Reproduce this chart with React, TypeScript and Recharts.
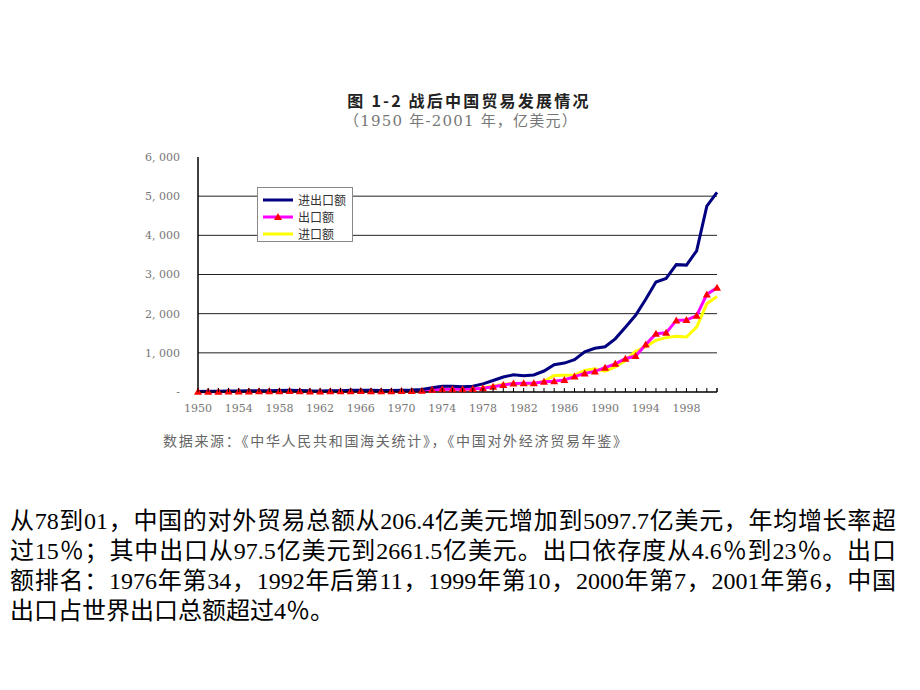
import { LineChart, Line, XAxis, YAxis, ReferenceLine } from "recharts";

const years = [
  1950, 1951, 1952, 1953, 1954, 1955, 1956, 1957, 1958, 1959, 1960, 1961, 1962,
  1963, 1964, 1965, 1966, 1967, 1968, 1969, 1970, 1971, 1972, 1973, 1974, 1975,
  1976, 1977, 1978, 1979, 1980, 1981, 1982, 1983, 1984, 1985, 1986, 1987, 1988,
  1989, 1990, 1991, 1992, 1993, 1994, 1995, 1996, 1997, 1998, 1999, 2000, 2001,
];

// 进出口额
const totalTrade = [
  11.3, 19.6, 19.4, 23.7, 24.4, 31.4, 32.1, 31.0, 38.7, 43.8, 38.1, 29.4, 26.6,
  29.2, 34.7, 42.5, 46.2, 41.6, 40.5, 40.3, 45.9, 48.4, 63.0, 109.8, 145.7, 147.5,
  134.3, 148.0, 206.4, 293.3, 381.4, 440.3, 416.1, 436.2, 535.5, 696.0, 738.5,
  826.5, 1027.9, 1116.8, 1154.4, 1357.0, 1655.3, 1957.0, 2366.2, 2808.6, 2898.8,
  3251.6, 3239.5, 3606.3, 4742.9, 5097.7,
];

// 出口额
const exportsVal = [
  5.5, 7.6, 8.2, 10.2, 11.5, 14.1, 16.5, 16.0, 19.8, 22.6, 18.6, 14.9, 14.9, 16.5,
  19.2, 22.3, 23.7, 21.4, 21.0, 22.0, 22.6, 26.4, 34.4, 58.2, 69.5, 72.6, 68.5,
  75.9, 97.5, 136.6, 181.2, 220.1, 223.2, 222.3, 261.4, 273.5, 309.4, 394.4, 475.2,
  525.4, 620.9, 719.1, 849.4, 917.4, 1210.1, 1487.8, 1510.5, 1827.9, 1837.1,
  1949.3, 2492.0, 2661.5,
];

// 进口额
const importsVal = [
  5.8, 12.0, 11.2, 13.5, 12.9, 17.3, 15.6, 15.0, 18.9, 21.2, 19.5, 14.5, 11.7,
  12.7, 15.5, 20.2, 22.5, 20.2, 19.5, 18.3, 23.3, 22.0, 28.6, 51.6, 76.2, 74.9,
  65.8, 72.1, 108.9, 156.7, 200.2, 220.2, 192.9, 213.9, 274.1, 422.5, 429.1, 432.1,
  552.7, 591.4, 533.5, 637.9, 805.9, 1039.6, 1156.2, 1320.8, 1388.3, 1423.7,
  1402.4, 1657.0, 2250.9, 2436.1,
];

const yTicks = [0, 1000, 2000, 3000, 4000, 5000, 6000];
const gridValues = [1000, 2000, 3000, 4000, 5000];

const data = years.map((y, i) => ({
  year: y,
  total: totalTrade[i],
  exp: exportsVal[i],
  imp: importsVal[i],
}));

const tickFont = "'DejaVu Serif', serif";

function fmtY(v: number) {
  if (v === 0) return "-";
  const s = v.toLocaleString("en-US");
  return s.replace(",", ", ");
}

function XTick(props: any) {
  const { x, y, payload, index } = props;
  const off = payload?.offset ?? 5;
  return (
    <g>
      <line x1={x - off} x2={x - off} y1={y} y2={y - 4} stroke="#000" />
      {index === years.length - 1 && (
        <line x1={x + off} x2={x + off} y1={y} y2={y - 4} stroke="#000" />
      )}
      {index % 4 === 0 && (
        <text
          x={x}
          y={y + 20}
          textAnchor="middle"
          fontFamily={tickFont}
          fontSize={11}
          fill="#777"
        >
          {payload.value}
        </text>
      )}
    </g>
  );
}

function Triangle(props: any) {
  const { cx, cy } = props;
  if (cx == null || cy == null) return null;
  return (
    <polygon
      points={`${cx},${cy - 4} ${cx - 4},${cy + 3} ${cx + 4},${cy + 3}`}
      fill="#ff0000"
    />
  );
}

const legendItems = [
  { label: "进出口额", color: "#000080", marker: false },
  { label: "出口额", color: "#ff00ff", marker: true },
  { label: "进口额", color: "#ffff00", marker: false },
];

function LegendBox() {
  return (
    <div
      style={{
        position: "absolute",
        left: 257,
        top: 187,
        width: 96,
        height: 55,
        border: "1px solid #888",
        background: "#fff",
        boxSizing: "border-box",
        padding: "3px 0 0 4px",
      }}
    >
      {legendItems.map((it) => (
        <div
          key={it.label}
          style={{ display: "flex", alignItems: "center", height: 17 }}
        >
          <svg width={32} height={10}>
            <line x1={1} x2={31} y1={5} y2={5} stroke={it.color} strokeWidth={3} />
            {it.marker && <polygon points="16,1 12,8 20,8" fill="#ff0000" />}
          </svg>
          <span
            style={{
              marginLeft: 4,
              fontFamily: "'Noto Sans CJK SC', sans-serif",
              fontSize: 12,
              color: "#333",
              lineHeight: "17px",
            }}
          >
            {it.label}
          </span>
        </div>
      ))}
    </div>
  );
}

const paraLines = [
  "从78到01，中国的对外贸易总额从206.4亿美元增加到5097.7亿美元，年均增长率超",
  "过15％；其中出口从97.5亿美元到2661.5亿美元。出口依存度从4.6％到23％。出口",
  "额排名：1976年第34，1992年后第11，1999年第10，2000年第7，2001年第6，中国",
  "出口占世界出口总额超过4％。",
];

export default function App() {
  return (
    <div
      style={{
        position: "absolute",
        left: 0,
        top: 0,
        width: 920,
        height: 690,
        background: "#fff",
        overflow: "hidden",
      }}
    >
      <div
        style={{
          position: "absolute",
          left: 0,
          top: 90,
          width: 938,
          textAlign: "center",
          fontFamily: "'Noto Sans CJK SC', sans-serif",
          fontWeight: "bold",
          fontSize: 16,
          letterSpacing: 2.2,
          color: "#222",
          lineHeight: "20px",
        }}
      >
        图 1-2 战后中国贸易发展情况
      </div>
      <div
        style={{
          position: "absolute",
          left: 0,
          top: 111,
          width: 922,
          textAlign: "center",
          fontFamily: "'DejaVu Serif', 'Noto Sans CJK SC', serif",
          fontSize: 15,
          letterSpacing: 1.2,
          color: "#777",
          lineHeight: "20px",
        }}
      >
        （1950 年-2001 年，亿美元）
      </div>

      <div style={{ position: "absolute", left: 0, top: 0 }}>
        <LineChart
          width={920}
          height={420}
          data={data}
          margin={{ top: 157, right: 203, bottom: 0, left: 138 }}
        >
          <XAxis
            xAxisId="b"
            dataKey="year"
            interval={0}
            height={28}
            tickSize={0}
            tickMargin={0}
            tickLine={false}
            tick={<XTick />}
            axisLine={{ stroke: "#000", strokeWidth: 1.5 }}
          />
          <XAxis
            xAxisId="t"
            orientation="top"
            dataKey="year"
            height={0}
            tick={false}
            tickLine={false}
            axisLine={{ stroke: "#999", strokeDasharray: "1 1" }}
          />
          <YAxis
            yAxisId="l"
            domain={[0, 6000]}
            ticks={yTicks}
            width={60}
            tickSize={0}
            tickMargin={18}
            tickLine={false}
            tickFormatter={fmtY}
            tick={{ fontFamily: tickFont, fontSize: 11, fill: "#777" }}
            axisLine={{ stroke: "#000", strokeWidth: 1.5 }}
          />
          <YAxis
            yAxisId="r"
            orientation="right"
            domain={[0, 6000]}
            width={0}
            tick={false}
            tickLine={false}
            axisLine={{ stroke: "#aaa" }}
          />
          {gridValues.map((v) => (
            <ReferenceLine
              key={v}
              xAxisId="b"
              yAxisId="l"
              y={v}
              stroke="#222"
              strokeWidth={1}
            />
          ))}
          <Line
            xAxisId="b"
            yAxisId="l"
            dataKey="imp"
            stroke="#ffff00"
            strokeWidth={3}
            dot={false}
            isAnimationActive={false}
          />
          <Line
            xAxisId="b"
            yAxisId="l"
            dataKey="exp"
            stroke="#ff00ff"
            strokeWidth={3}
            dot={false}
            isAnimationActive={false}
          />
          <Line
            xAxisId="b"
            yAxisId="l"
            dataKey="total"
            stroke="#000080"
            strokeWidth={3}
            dot={false}
            isAnimationActive={false}
          />
          <Line
            xAxisId="b"
            yAxisId="l"
            dataKey="exp"
            stroke="none"
            dot={<Triangle />}
            activeDot={false}
            isAnimationActive={false}
          />
        </LineChart>
      </div>

      <LegendBox />

      <div
        style={{
          position: "absolute",
          left: 163,
          top: 431,
          whiteSpace: "nowrap",
          fontFamily: "'Noto Sans CJK SC', sans-serif",
          fontSize: 14,
          letterSpacing: 1.7,
          color: "#666",
          lineHeight: "18px",
        }}
      >
        数据来源：《中华人民共和国海关统计》，《中国对外经济贸易年鉴》
      </div>

      <div
        style={{
          position: "absolute",
          left: 10,
          top: 506,
          width: 886,
          fontFamily: "'Liberation Serif', 'Noto Sans CJK SC', serif",
          fontSize: 24,
          color: "#000",
        }}
      >
        {paraLines.map((t, i) => (
          <div
            key={i}
            style={{
              height: 30,
              lineHeight: "30px",
              whiteSpace: "nowrap",
              textAlign: i < paraLines.length - 1 ? "justify" : "left",
              textAlignLast: i < paraLines.length - 1 ? "justify" : "auto",
            }}
          >
            {t}
          </div>
        ))}
      </div>
    </div>
  );
}
